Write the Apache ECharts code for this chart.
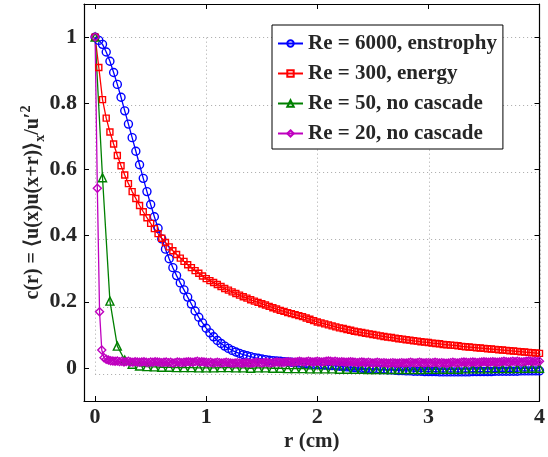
<!DOCTYPE html>
<html>
<head>
<meta charset="utf-8">
<script src="https://cdn.jsdelivr.net/npm/echarts@6/dist/echarts.min.js"></script>
<style>
  html, body { margin: 0; padding: 0; background: #fff; }
  #main { width: 548px; height: 457px; }
</style>
</head>
<body>
<div id="main"></div>
<script>
// sample spacing (cm) of each run
var stepBlueRed = 1 / 30;
var stepGreen = 1 / 15;
var stepPurple = 0.02;

// Re = 6000, enstrophy
var re6000 = [
  1.0, 0.99, 0.978, 0.955, 0.927, 0.893, 0.857, 0.818, 0.777, 0.737,
  0.696, 0.655, 0.614, 0.573, 0.533, 0.494, 0.457, 0.422, 0.39, 0.359,
  0.33, 0.303, 0.279, 0.257, 0.236, 0.214, 0.193, 0.172, 0.153, 0.136,
  0.12, 0.106, 0.094, 0.083, 0.074, 0.066, 0.059, 0.053, 0.048, 0.044,
  0.04, 0.037, 0.034, 0.031, 0.029, 0.027, 0.025, 0.023, 0.022, 0.021,
  0.02, 0.019, 0.018, 0.017, 0.016, 0.015, 0.014, 0.013, 0.012, 0.011,
  0.011, 0.01, 0.009, 0.008, 0.007, 0.006, 0.005, 0.004, 0.003, 0.002,
  0.001, 0.0, -0.001, -0.002, -0.003, -0.003, -0.004, -0.005, -0.005, -0.006,
  -0.006, -0.007, -0.008, -0.008, -0.009, -0.009, -0.01, -0.01, -0.01, -0.011,
  -0.011, -0.011, -0.011, -0.012, -0.012, -0.012, -0.012, -0.012, -0.012, -0.012,
  -0.012, -0.012, -0.011, -0.011, -0.011, -0.011, -0.011, -0.011, -0.01, -0.01,
  -0.01, -0.01, -0.01, -0.01, -0.01, -0.009, -0.009, -0.009, -0.009, -0.009, -0.009
];

// Re = 300, energy
var re300 = [
  1.0, 0.908, 0.811, 0.755, 0.713, 0.677, 0.642, 0.611, 0.583, 0.557,
  0.533, 0.512, 0.491, 0.472, 0.454, 0.437, 0.421, 0.406, 0.392, 0.379,
  0.366, 0.354, 0.343, 0.332, 0.322, 0.312, 0.303, 0.294, 0.286, 0.278,
  0.27, 0.264, 0.258, 0.252, 0.246, 0.24, 0.235, 0.23, 0.225, 0.22,
  0.215, 0.211, 0.206, 0.202, 0.198, 0.194, 0.19, 0.186, 0.182, 0.178,
  0.174, 0.171, 0.167, 0.164, 0.161, 0.158, 0.155, 0.151, 0.147, 0.143,
  0.139, 0.136, 0.133, 0.13, 0.127, 0.124, 0.121, 0.119, 0.116, 0.114,
  0.111, 0.109, 0.107, 0.105, 0.103, 0.101, 0.099, 0.097, 0.095, 0.093,
  0.092, 0.09, 0.088, 0.087, 0.085, 0.084, 0.082, 0.081, 0.079, 0.078,
  0.077, 0.075, 0.074, 0.073, 0.071, 0.07, 0.069, 0.068, 0.067, 0.065,
  0.064, 0.063, 0.062, 0.061, 0.06, 0.059, 0.058, 0.057, 0.056, 0.055,
  0.054, 0.053, 0.052, 0.051, 0.05, 0.049, 0.048, 0.047, 0.046, 0.045, 0.044
];

// Re = 50, no cascade
var re50 = [
  1.0, 0.575, 0.202, 0.066, 0.024, 0.011, 0.006, 0.004, 0.003, 0.002,
  0.002, 0.001, 0.001, 0.001, 0.0, 0.0, 0.0, 0.001, 0.001, 0.0,
  0.0, -0.001, 0.0, 0.0, -0.001, -0.001, -0.002, -0.002, -0.002, -0.003,
  -0.003, -0.003, -0.003, -0.004, -0.004, -0.004, -0.004, -0.005, -0.005, -0.005,
  -0.005, -0.005, -0.005, -0.005, -0.005, -0.004, -0.004, -0.004, -0.004, -0.004,
  -0.003, -0.003, -0.003, -0.003, -0.002, -0.002, -0.002, -0.002, -0.001, -0.001, -0.001
];

// Re = 20, no cascade
var re20 = [
  1.0, 0.543, 0.17, 0.054, 0.031, 0.026, 0.024, 0.022, 0.021, 0.02,
  0.021, 0.019, 0.02, 0.018, 0.019, 0.02, 0.018, 0.017, 0.019, 0.018,
  0.017, 0.018, 0.019, 0.017, 0.016, 0.018, 0.017, 0.019, 0.018, 0.017,
  0.016, 0.017, 0.018, 0.016, 0.017, 0.015, 0.016, 0.018, 0.017, 0.016,
  0.017, 0.018, 0.019, 0.018, 0.017, 0.019, 0.02, 0.018, 0.019, 0.018,
  0.017, 0.016, 0.017, 0.015, 0.016, 0.017, 0.016, 0.015, 0.016, 0.017,
  0.016, 0.015, 0.014, 0.015, 0.016, 0.015, 0.014, 0.015, 0.016, 0.015,
  0.014, 0.015, 0.016, 0.017, 0.016, 0.015, 0.016, 0.017, 0.016, 0.015,
  0.016, 0.017, 0.018, 0.017, 0.016, 0.017, 0.018, 0.019, 0.018, 0.017,
  0.018, 0.019, 0.02, 0.019, 0.018, 0.019, 0.02, 0.019, 0.018, 0.019,
  0.02, 0.019, 0.018, 0.019, 0.02, 0.021, 0.02, 0.019, 0.02, 0.019,
  0.018, 0.019, 0.018, 0.017, 0.018, 0.019, 0.018, 0.017, 0.016, 0.017,
  0.018, 0.017, 0.016, 0.017, 0.016, 0.015, 0.016, 0.017, 0.016, 0.015,
  0.016, 0.015, 0.014, 0.015, 0.016, 0.015, 0.014, 0.015, 0.016, 0.015,
  0.015, 0.016, 0.017, 0.016, 0.015, 0.016, 0.017, 0.016, 0.015, 0.016,
  0.016, 0.015, 0.016, 0.017, 0.016, 0.015, 0.016, 0.015, 0.014, 0.015,
  0.016, 0.017, 0.016, 0.015, 0.016, 0.017, 0.018, 0.017, 0.016, 0.017,
  0.018, 0.017, 0.016, 0.017, 0.018, 0.019, 0.018, 0.017, 0.018, 0.019,
  0.018, 0.017, 0.018, 0.019, 0.02, 0.019, 0.018, 0.019, 0.02, 0.019,
  0.02, 0.019, 0.018, 0.019, 0.02, 0.021, 0.02, 0.019, 0.02, 0.019, 0.02
];

var seriesNames = ['Re = 6000, enstrophy', 'Re = 300, energy', 'Re = 50, no cascade', 'Re = 20, no cascade'];
var xTicks = [0, 1, 2, 3, 4];
var yTicks = [0, 0.2, 0.4, 0.6, 0.8, 1];

var FONT = '"Liberation Serif", "Times New Roman", serif';
var TXT = '#262626';

// plot box and axis ranges
var X_MIN = -0.1, X_MAX = 4, Y_MIN = -0.1, Y_MAX = 1.1;
var W = 548, H = 457;
var box = { left: 84, right: 8, top: 4, bottom: 49 };

function pairs(vals, step) {
  return vals.map(function (v, i) { return [i * step, v]; });
}

function lineSeries(name, vals, step, color, symbol, size) {
  return {
    name: name,
    type: 'line',
    xAxisIndex: 0,
    yAxisIndex: 0,
    data: pairs(vals, step),
    symbol: symbol,
    symbolSize: size,
    showAllSymbol: true,
    lineStyle: { color: color, width: 1.3 },
    itemStyle: { color: 'rgba(255,255,255,0)', borderColor: color, borderWidth: 1.4 },
    emphasis: { disabled: true },
    z: 3
  };
}

// second grid that spans only the tick range, so the dotted grid lines sit on the ticks
var pw = W - box.left - box.right, ph = H - box.top - box.bottom;
var gx0 = box.left + (0 - X_MIN) / (X_MAX - X_MIN) * pw;
var gy0 = box.top + (Y_MAX - 1) / (Y_MAX - Y_MIN) * ph;
var gyB = H - box.bottom - (0 - Y_MIN) / (Y_MAX - Y_MIN) * ph;

var chart = echarts.init(document.getElementById('main'));

var tickStyle = { inside: true, length: 5, lineStyle: { color: '#000', width: 1 } };
var frameLine = { show: true, onZero: false, lineStyle: { color: '#000', width: 1.2 } };
var dotted = { show: true, lineStyle: { color: '#a8a8a8', type: [1, 3], width: 1 } };

var option = {
  backgroundColor: '#fff',
  animation: false,
  grid: [
    { left: box.left, right: box.right, top: box.top, bottom: box.bottom },
    { left: gx0, right: box.right, top: gy0, bottom: H - gyB }
  ],
  legend: {
    orient: 'vertical',
    left: 272,
    top: 25,
    padding: [8, 6, 5, 5],
    itemGap: 9,
    itemWidth: 25,
    itemHeight: 8,
    backgroundColor: '#fff',
    borderColor: '#000',
    borderWidth: 1,
    borderRadius: 0,
    textStyle: { fontFamily: FONT, fontWeight: 'bold', fontSize: 21, color: TXT, lineHeight: 21 },
    data: seriesNames
  },
  xAxis: [
    {
      type: 'value', min: X_MIN, max: X_MAX, gridIndex: 0,
      name: 'r (cm)', nameLocation: 'middle', nameGap: 30, nameMoveOverlap: false,
      nameTextStyle: { fontFamily: FONT, fontWeight: 'bold', fontSize: 21, color: TXT },
      axisLine: frameLine,
      axisTick: Object.assign({ customValues: xTicks }, tickStyle),
      axisLabel: { customValues: xTicks, margin: 5, fontFamily: FONT, fontWeight: 'bold', fontSize: 22, color: TXT },
      splitLine: { show: false }
    },
    {
      type: 'value', min: X_MIN, max: X_MAX, gridIndex: 0, position: 'top',
      axisLine: frameLine,
      axisTick: Object.assign({ customValues: xTicks }, tickStyle),
      axisLabel: { show: false },
      splitLine: { show: false }
    },
    {
      type: 'value', min: 0, max: 4, interval: 1, gridIndex: 1,
      axisLine: { show: false }, axisTick: { show: false }, axisLabel: { show: false },
      splitLine: dotted
    }
  ],
  yAxis: [
    {
      type: 'value', min: Y_MIN, max: Y_MAX, gridIndex: 0,
      name: '{m|c(r) = \u27E8u(x)u(x+r)\u27E9}{s|x}{m|/u\u2032}{p|2}',
      nameLocation: 'middle', nameGap: 37, nameRotate: 90, nameMoveOverlap: false,
      nameTextStyle: {
        fontFamily: FONT, fontWeight: 'bold', fontSize: 20, color: TXT,
        rich: {
          m: { fontFamily: FONT, fontWeight: 'bold', fontSize: 20, color: TXT, lineHeight: 28 },
          s: { fontFamily: FONT, fontWeight: 'bold', fontSize: 14, color: TXT, verticalAlign: 'bottom', lineHeight: 28 },
          p: { fontFamily: FONT, fontWeight: 'bold', fontSize: 14, color: TXT, verticalAlign: 'top', lineHeight: 28 }
        }
      },
      axisLine: frameLine,
      axisTick: Object.assign({ customValues: yTicks }, tickStyle),
      axisLabel: { customValues: yTicks, margin: 7, fontFamily: FONT, fontWeight: 'bold', fontSize: 22, color: TXT },
      splitLine: { show: false }
    },
    {
      type: 'value', min: Y_MIN, max: Y_MAX, gridIndex: 0, position: 'right',
      axisLine: frameLine,
      axisTick: Object.assign({ customValues: yTicks }, tickStyle),
      axisLabel: { show: false },
      splitLine: { show: false }
    },
    {
      type: 'value', min: 0, max: 1, interval: 0.2, gridIndex: 1,
      axisLine: { show: false }, axisTick: { show: false }, axisLabel: { show: false },
      splitLine: dotted
    }
  ],
  series: [
    lineSeries(seriesNames[0], re6000, stepBlueRed, '#0000ff', 'circle', 8),
    lineSeries(seriesNames[1], re300, stepBlueRed, '#ff0000', 'rect', 6),
    lineSeries(seriesNames[2], re50, stepGreen, '#008000', 'triangle', 8),
    lineSeries(seriesNames[3], re20, stepPurple, '#bf00bf', 'diamond', 8)
  ]
};

chart.setOption(option);
</script>
</body>
</html>
